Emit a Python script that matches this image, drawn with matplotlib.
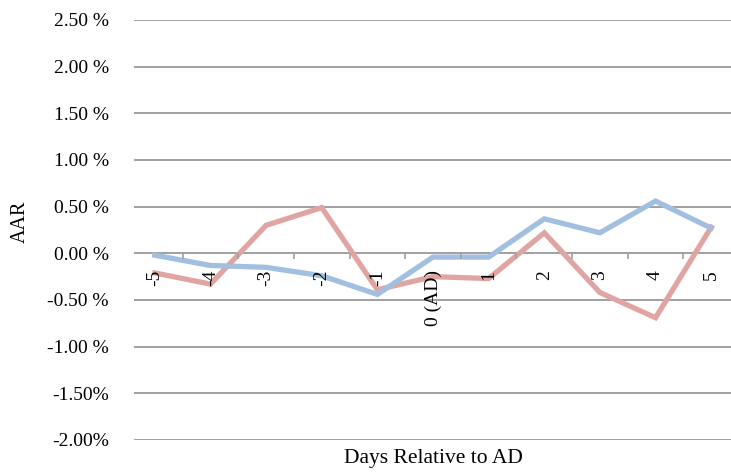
import matplotlib
matplotlib.use("Agg")
import matplotlib.pyplot as plt

# Event window and average abnormal returns (in percent)
days = ["-5", "-4", "-3", "-2", "-1", "0 (AD)", "1", "2", "3", "4", "5"]
aar_red = [-0.21, -0.33, 0.30, 0.49, -0.39, -0.25, -0.27, 0.22, -0.42, -0.69, 0.28]
aar_blue = [-0.02, -0.13, -0.15, -0.24, -0.44, -0.04, -0.04, 0.37, 0.22, 0.56, 0.27]

y_ticks = [2.5, 2.0, 1.5, 1.0, 0.5, 0.0, -0.5, -1.0, -1.5, -2.0]
y_tick_labels = ["2.50 %", "2.00 %", "1.50 %", "1.00 %", "0.50 %", "0.00 %",
                 "-0.50 %", "-1.00 %", "-1.50%", "-2.00%"]

plt.rcParams["font.family"] = ["Liberation Serif", "DejaVu Serif"]

W, H = 731, 475
fig = plt.figure(figsize=(W / 100, H / 100), dpi=100)
left, right, top, bottom = 127, 739, 20, 440
ax = fig.add_axes([left / W, 1 - bottom / H, (right - left) / W, (bottom - top) / H])

x = list(range(len(days)))
ax.set_xlim(-0.5, len(days) - 0.5)
ax.set_ylim(-2.0, 2.5)

grid_col = "#a0a0a0"
gx0 = (135 - left) / (right - left)
for yv in y_ticks:
    ax.axhline(yv, xmin=gx0, xmax=1, color=grid_col, lw=1.4, zorder=1)

ax.plot(x, aar_red, color="#e0a5a3", lw=3.8, solid_joinstyle="miter", zorder=3)
ax.plot(x, aar_blue, color="#a2bfe0", lw=3.8, solid_joinstyle="miter", zorder=4)

for s in ["top", "right", "left", "bottom"]:
    ax.spines[s].set_visible(False)

ax.set_yticks(y_ticks)
ax.set_yticklabels(y_tick_labels)
ax.tick_params(axis="y", length=0, pad=13, labelsize=14)

# category axis sits on the zero line; its labels are drawn above the series
ax.spines["bottom"].set_position(("data", 0))
ax.set_xticks([i + 0.5 for i in range(len(days) - 1)], minor=True)
ax.tick_params(axis="x", which="minor", length=4, width=1.2, color=grid_col,
               direction="out")
ax.set_xticks(x)
ax.set_xticklabels(days)
ax.tick_params(axis="x", which="major", length=0, pad=12, labelsize=14,
               labelrotation=90)
for lbl in ax.get_xticklabels():
    lbl.set_va("top")
    lbl.set_ha("center")
ax.xaxis.set_zorder(5)

ax.set_xlabel("Days Relative to AD", fontsize=15.5)
ax.xaxis.set_label_coords(0.5, -0.022)
ax.xaxis.label.set_va("top")

ax.set_ylabel("AAR", fontsize=14.5)
ax.yaxis.set_label_coords((20 - left) / (right - left), 0.52)
ax.yaxis.label.set_va("center")

fig.savefig("out.png", dpi=100)
